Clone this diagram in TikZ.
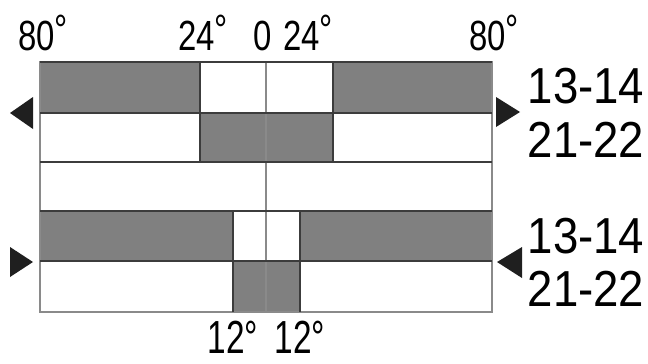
\documentclass[tikz,border=0pt]{standalone}
\usepackage{fontspec}
\usepackage{graphicx}
\setmainfont{Liberation Sans}
\definecolor{bandgray}{HTML}{808080}
\definecolor{rulegray}{HTML}{3C3C3C}
\definecolor{framegray}{HTML}{8A8A8A}
\newcommand{\narrow}[2]{\scalebox{#1}[1]{#2}}
\newcommand{\updeg}{\raisebox{0.12em}{°}}

\begin{document}
\begin{tikzpicture}[
    x=0.025cm, y=-0.025cm,
    band/.style={fill=bandgray},
    rule/.style={draw=rulegray, line width=1.3pt},
    frame/.style={draw=framegray, line width=1.1pt},
    angle/.style={anchor=base, inner sep=0pt, text depth=0pt, font=\fontsize{30}{30}\selectfont},
    hours/.style={anchor=base, inner sep=0pt, text depth=0pt, font=\fontsize{36}{36}\selectfont},
    tip/.style={fill=black!88},
  ]
  \useasboundingbox (0,0) rectangle (648,363);

  % ---- grey bands ----
  \fill[band] (40,62) rectangle (200,113);
  \fill[band] (333,62) rectangle (492,113);
  \fill[band] (200,113) rectangle (333,162);
  \fill[band] (40,211) rectangle (233,261);
  \fill[band] (300,211) rectangle (492,261);
  \fill[band] (233,261) rectangle (300,312);

  % ---- frame and rules ----
  \draw[frame] (40,62) rectangle (492,312);
  \draw[frame] (266,62) -- (266,312);
  \foreach \y in {62,113,162,211,261}
    \draw[rule] (40,\y) -- (492,\y);
  \draw[rule] (200,62) -- (200,162);
  \draw[rule] (333,62) -- (333,162);
  \draw[rule] (233,211) -- (233,312);
  \draw[rule] (300,211) -- (300,312);

  % ---- angle labels ----
  \node[angle] (a80w) at (43,50) {\narrow{0.78}{80\updeg}};
  \node[angle] (a24w) at (203,50) {\narrow{0.78}{24\updeg}};
  \node[angle] (a0) at (263,50) {\narrow{0.78}{0}};
  \node[angle] (a24e) at (308,50) {\narrow{0.78}{24\updeg}};
  \node[angle] (a80e) at (494,50) {\narrow{0.78}{80\updeg}};
  \node[angle, font=\fontsize{33}{33}\selectfont] (a12w) at (233,353) {\narrow{0.72}{12°}};
  \node[angle, font=\fontsize{33}{33}\selectfont] (a12e) at (300,353) {\narrow{0.72}{12°}};

  % ---- hour labels ----
  \node[hours] (h1) at (586,103) {\narrow{0.9}{13-14}};
  \node[hours] (h2) at (586,157) {\narrow{0.9}{21-22}};
  \node[hours] (h3) at (586,253) {\narrow{0.9}{13-14}};
  \node[hours] (h4) at (586,306) {\narrow{0.9}{21-22}};

  % ---- direction marks ----
  \fill[tip] (10,113) -- (33,97) -- (33,129) -- cycle;
  \fill[tip] (520,112) -- (496,97) -- (496,127) -- cycle;
  \fill[tip] (33,262) -- (10,247) -- (10,277) -- cycle;
  \fill[tip] (497,262) -- (522,247) -- (522,278) -- cycle;

\end{tikzpicture}
\end{document}
